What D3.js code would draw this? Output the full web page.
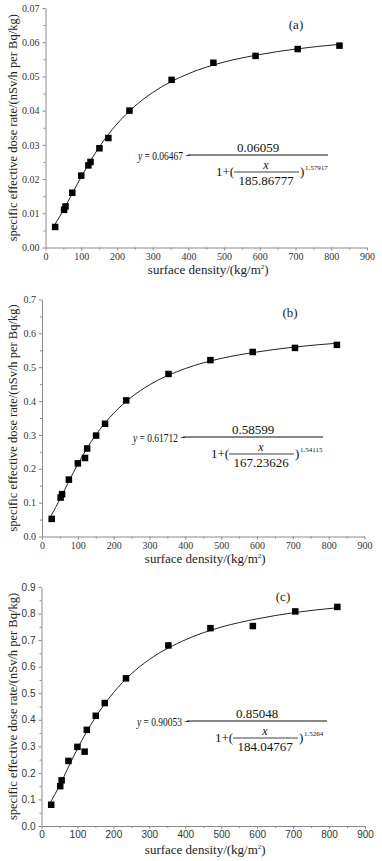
<!DOCTYPE html>
<html>
<head>
<meta charset="utf-8">
<script src="https://cdn.jsdelivr.net/npm/d3@7/dist/d3.min.js"></script>
<style>
	body { margin: 0; background: #fff; }
	svg { display: block; }
</style>
</head>
<body>
<svg id="fig" width="382" height="861"></svg>
<script>
// measured points (same surface densities for the three panels)
var density = [27, 52, 56, 75, 100, 120, 126, 151, 176, 235, 353, 470, 588, 706, 823];
var rateA = [0.006, 0.011, 0.012, 0.016, 0.021, 0.024, 0.025, 0.029, 0.032, 0.040, 0.049, 0.054, 0.056, 0.058, 0.059];
var rateB = [0.052, 0.115, 0.125, 0.168, 0.216, 0.232, 0.260, 0.298, 0.333, 0.402, 0.480, 0.521, 0.545, 0.557, 0.566];
var rateC = [0.080, 0.150, 0.172, 0.245, 0.298, 0.280, 0.362, 0.415, 0.463, 0.556, 0.680, 0.745, 0.753, 0.808, 0.825];

// fitted curve
var fitX = [25, 50, 75, 100, 150, 200, 250, 300, 400, 500, 600, 700, 825];
var fitA = [0.0065, 0.0109, 0.0158, 0.0206, 0.0293, 0.0361, 0.0413, 0.0453, 0.0508, 0.0542, 0.0564, 0.0580, 0.0594];
var fitB = [0.061, 0.110, 0.163, 0.214, 0.300, 0.364, 0.412, 0.448, 0.496, 0.526, 0.545, 0.559, 0.571];
var fitC = [0.089, 0.152, 0.222, 0.291, 0.409, 0.502, 0.573, 0.627, 0.701, 0.749, 0.780, 0.803, 0.822];

var xTicks = [0, 100, 200, 300, 400, 500, 600, 700, 800, 900];
var yTicksA = [0, 0.01, 0.02, 0.03, 0.04, 0.05, 0.06, 0.07];
var yTicksB = [0, 0.1, 0.2, 0.3, 0.4, 0.5, 0.6, 0.7];
var yTicksC = [0, 0.1, 0.2, 0.3, 0.4, 0.5, 0.6, 0.7, 0.8, 0.9];

var eqA = ["0.06467", "0.06059", "185.86777", "1.57917"];
var eqB = ["0.61712", "0.58599", "167.23626", "1.54115"];
var eqC = ["0.90053", "0.85048", "184.04767", "1.5264"];

var serif = "'Liberation Serif', 'Times New Roman', serif";
var sans = "'Liberation Sans', Arial, sans-serif";
var axisColor = "#8a8a8a";

var svg = d3.select("#fig");

var panels = [
	{ id: "a", rates: rateA, fit: fitA, yTicks: yTicksA, fmt: ".2f", tickFont: serif,
	  box: { l: 45.5, r: 367, t: 8, b: 247.5 }, eq: eqA, eqX: 138, eqY: 155,
	  tag: [296, 29], xTitleY: 273.5, yTitleX: 13 },
	{ id: "b", rates: rateB, fit: fitB, yTicks: yTicksB, fmt: ".1f", tickFont: serif,
	  box: { l: 42, r: 364.5, t: 299.5, b: 536.5 }, eq: eqB, eqX: 133, eqY: 437,
	  tag: [290, 317], xTitleY: 562.5, yTitleX: 13 },
	{ id: "c", rates: rateC, fit: fitC, yTicks: yTicksC, fmt: ".1f", tickFont: sans,
	  box: { l: 41.5, r: 365, t: 587, b: 826 }, eq: eqC, eqX: 137, eqY: 721,
	  tag: [283, 601], xTitleY: 853.5, yTitleX: 13 }
];

function midpoints(ticks){
	var m = [];
	for(var i = 0; i < ticks.length - 1; i++){
		m.push((ticks[i] + ticks[i+1]) / 2);
	}
	return m;
}

function drawEquation(g, eq, sx, by){
	// y = A - B / (1 + (x / C)^D)
	var fs = 13;
	var t = g.append("g")
		.attr("font-family", serif)
		.attr("fill", "#111");

	// the left part is set narrow in the original
	var lead = t.append("text")
		.attr("transform", "translate(" + sx + "," + (by + 4.5) + ") scale(0.7,1)")
		.attr("font-size", fs + 0.5);
	lead.append("tspan").attr("font-style", "italic").text("y");
	lead.append("tspan").text(" = " + eq[0] + " \u2212");

	t.append("line")
		.attr("x1", sx + 50).attr("x2", sx + 190)
		.attr("y1", by).attr("y2", by)
		.attr("stroke", "#111").attr("stroke-width", 1);

	t.append("text")
		.attr("x", sx + 120).attr("y", by - 3)
		.attr("text-anchor", "middle")
		.attr("font-size", fs)
		.text(eq[1]);

	t.append("text")
		.attr("x", sx + 78).attr("y", by + 21)
		.attr("font-size", fs)
		.text("1+(");

	t.append("text")
		.attr("x", sx + 128).attr("y", by + 14)
		.attr("text-anchor", "middle")
		.attr("font-size", 12)
		.attr("font-style", "italic")
		.text("x");

	t.append("line")
		.attr("x1", sx + 96).attr("x2", sx + 161)
		.attr("y1", by + 17).attr("y2", by + 17)
		.attr("stroke", "#111").attr("stroke-width", 0.8);

	t.append("text")
		.attr("x", sx + 128).attr("y", by + 30)
		.attr("text-anchor", "middle")
		.attr("font-size", fs)
		.text(eq[2]);

	t.append("text")
		.attr("x", sx + 162).attr("y", by + 21)
		.attr("font-size", fs)
		.text(")");

	t.append("text")
		.attr("x", sx + 167).attr("y", by + 15)
		.attr("font-size", 7)
		.text(eq[3]);
}

function drawPanel(p){
	var g = svg.append("g").attr("class", "panel-" + p.id);
	var box = p.box;
	var ymax = p.yTicks[p.yTicks.length - 1];

	var xscale = d3.scaleLinear().domain([0, 900]).range([box.l, box.r]);
	var yscale = d3.scaleLinear().domain([0, ymax]).range([box.b, box.t]);

	// minor ticks first, then the major axis on top
	g.append("g")
		.attr("transform", "translate(0," + box.b + ")")
		.call(d3.axisBottom(xscale).tickValues(midpoints(xTicks)).tickSize(2).tickFormat(""))
		.call(function(a){ a.select(".domain").remove(); });
	g.append("g")
		.attr("transform", "translate(" + box.l + ",0)")
		.call(d3.axisLeft(yscale).tickValues(midpoints(p.yTicks)).tickSize(2).tickFormat(""))
		.call(function(a){ a.select(".domain").remove(); });

	g.append("g")
		.attr("transform", "translate(0," + box.b + ")")
		.call(d3.axisBottom(xscale).tickValues(xTicks).tickSize(3).tickSizeOuter(0).tickPadding(2).tickFormat(d3.format("d")));
	g.append("g")
		.attr("transform", "translate(" + box.l + ",0)")
		.call(d3.axisLeft(yscale).tickValues(p.yTicks).tickSize(3).tickSizeOuter(0).tickPadding(3).tickFormat(d3.format(p.fmt)));

	g.selectAll(".tick line, .domain")
		.attr("stroke", axisColor);
	g.selectAll(".tick text")
		.attr("fill", "#333")
		.style("font-family", p.tickFont)
		.style("font-size", "10px");

	// axis titles
	var xt = g.append("text")
		.attr("x", (box.l + box.r) / 2 + 2)
		.attr("y", p.xTitleY)
		.attr("text-anchor", "middle")
		.attr("font-family", serif)
		.attr("font-size", 13)
		.attr("fill", "#222");
	xt.append("tspan").text("surface density/(kg/m");
	xt.append("tspan").attr("font-size", 7).attr("dy", -5).text("2");
	xt.append("tspan").attr("dy", 5).text(")");

	g.append("text")
		.attr("transform", "translate(" + (p.yTitleX + 4) + "," + ((box.t + box.b) / 2) + ") rotate(-90)")
		.attr("text-anchor", "middle")
		.attr("font-family", serif)
		.attr("font-size", 12.5)
		.attr("fill", "#222")
		.text("specific effective dose rate/(nSv/h per Bq/kg)");

	// fitted line
	var line = d3.line()
		.x(function(d){ return xscale(d[0]); })
		.y(function(d){ return yscale(d[1]); })
		.curve(d3.curveMonotoneX);

	g.append("path")
		.datum(d3.zip(fitX, p.fit))
		.attr("d", line)
		.attr("fill", "none")
		.attr("stroke", "#222")
		.attr("stroke-width", 1);

	// data squares
	var s = 6.5;
	g.selectAll("rect.pt")
		.data(d3.zip(density, p.rates))
		.enter().append("rect")
			.attr("class", "pt")
			.attr("x", function(d){ return xscale(d[0]) - s / 2; })
			.attr("y", function(d){ return yscale(d[1]) - s / 2; })
			.attr("width", s)
			.attr("height", s)
			.attr("fill", "#000");

	g.append("text")
		.attr("x", p.tag[0])
		.attr("y", p.tag[1])
		.attr("text-anchor", "middle")
		.attr("font-family", serif)
		.attr("font-size", 13)
		.attr("fill", "#222")
		.text("(" + p.id + ")");

	drawEquation(g, p.eq, p.eqX, p.eqY);
}

panels.forEach(drawPanel);
</script>
</body>
</html>
